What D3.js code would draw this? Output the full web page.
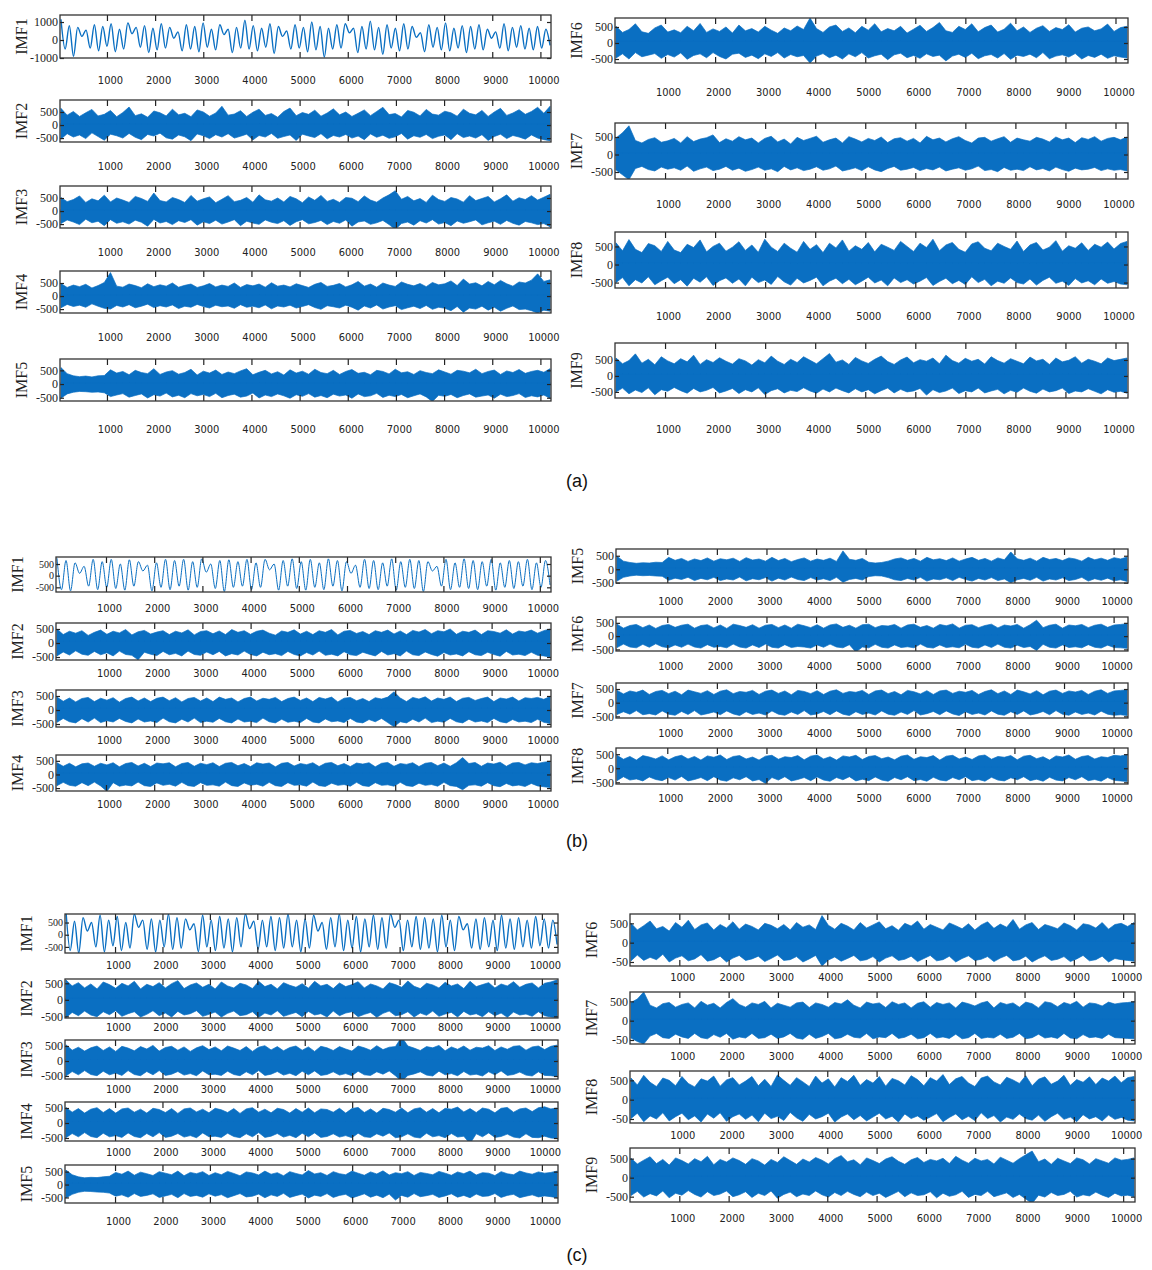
<!DOCTYPE html>
<html>
<head>
<meta charset="utf-8">
<script src="https://cdn.jsdelivr.net/npm/d3@7"></script>
<style>
  body { margin: 0; background: #fff; }
  .ylab text { font-family: "Liberation Serif", serif; font-size: 12px; fill: #222; }
  .ylab.small text { font-size: 10px; }
  .xlab text { font-family: "DejaVu Sans Condensed", "DejaVu Sans", sans-serif; font-size: 11px; fill: #222; }
  .imf { font-family: "Liberation Serif", serif; font-size: 16px; fill: #222; }
  .grp { font-family: "Liberation Sans", Arial, sans-serif; font-size: 18px; fill: #111; }
</style>
</head>
<body>
<svg id="chart" width="1152" height="1270"></svg>
<script>
// tick values shared by all panels
const xTicks = [1000, 2000, 3000, 4000, 5000, 6000, 7000, 8000, 9000, 10000];
const yTicks = [500, 0, -500];
const yTicksWide = [1000, 0, -1000];
const groupLabels = ["(a)", "(b)", "(c)"];

// IMF1 of each group: successive peak / trough values (uniform sampling)
const a1 = [1150,-500,800,-900,700,200,550,-450,850,-600,750,-350,900,-650,600,-500,950,350,700,-400,800,-700,650,-550,900,-450,700,100,450,-600,850,-500,750,-650,950,-400,600,-550,850,300,600,-700,700,-450,1100,-500,800,-600,650,-400,900,-750,750,200,500,-500,850,-450,700,-650,1000,-550,750,-950,650,-500,850,-450,900,400,650,-700,750,-500,1050,-550,700,-800,850,-450,650,-600,900,-500,750,150,400,-650,850,-400,700,-550,950,-600,650,-450,800,-700,750,-500,850,-550,600,100,450,-450,900,-600,700,-400,800,-500,650,-550,750,-450,600,-300];
const b1 = [750,-600,650,-650,550,100,400,-450,700,-600,600,-500,700,-550,500,-620,680,-450,600,200,450,-650,550,-500,700,-600,650,-450,700,-620,600,-500,720,150,500,-550,650,-680,680,-500,600,-450,700,-600,550,-500,700,250,500,-620,650,-450,720,-550,600,-620,700,-500,550,-600,720,-450,650,-650,600,100,450,-500,700,-550,650,-600,550,-450,720,-620,600,-500,700,-550,650,-680,600,200,400,-450,700,-600,550,-500,720,-550,650,-600,600,-450,700,-620,550,-500,650,-550,600,-450,700,-600,550,-500,650,-400];
const c1 = [1000,-650,550,-750,700,150,500,-500,800,-700,600,-450,750,-650,500,-550,850,300,600,-600,650,-700,600,-500,850,-600,700,-550,650,200,450,-700,800,-500,600,-650,750,-550,650,-700,700,-500,850,250,550,-600,600,-500,750,-650,700,-550,850,-500,600,-700,650,-550,800,150,500,-600,700,-500,850,-650,600,-550,750,-700,650,-500,800,-600,700,-550,850,300,600,-650,600,-500,750,-600,700,-550,650,-700,800,-500,600,-650,750,200,450,-550,650,-600,700,-500,600,-650,800,-550,650,-600,700,-500,600,-550,750,-450,650,-550,600,-400];

// other IMFs: upper and lower envelope of the dense signal (80 samples each)
const a2h = [640,380,520,330,470,600,350,410,560,320,480,690,360,430,300,540,470,350,610,390,450,320,580,500,340,460,720,380,420,550,330,490,610,370,440,300,520,650,360,480,410,570,340,460,620,390,500,330,450,580,360,520,680,400,440,310,560,490,350,600,420,380,530,470,340,610,450,390,560,330,500,640,370,460,590,410,520,680,450,720];
const a2l = [-540,-330,-460,-380,-520,-300,-440,-580,-350,-410,-500,-320,-470,-560,-360,-420,-310,-490,-540,-380,-450,-600,-340,-410,-520,-370,-460,-330,-500,-430,-350,-570,-400,-460,-320,-510,-440,-380,-590,-350,-420,-480,-330,-530,-400,-460,-360,-500,-420,-560,-340,-470,-390,-510,-450,-320,-540,-410,-470,-360,-520,-430,-380,-560,-330,-480,-420,-500,-370,-590,-440,-350,-520,-400,-460,-540,-380,-500,-560,-600];
const a3h = [520,360,440,580,330,470,390,610,350,500,420,330,560,480,370,690,400,350,520,440,330,600,380,470,540,320,450,590,360,410,520,340,620,430,380,500,350,560,470,320,540,410,600,370,450,330,520,490,360,580,420,340,500,620,780,450,560,390,480,330,610,440,370,520,460,340,590,400,480,560,350,470,620,380,510,440,590,420,530,640];
const a3l = [-480,-340,-420,-520,-310,-450,-390,-560,-330,-470,-410,-500,-350,-430,-580,-320,-460,-400,-520,-370,-440,-330,-540,-410,-480,-350,-500,-420,-330,-560,-390,-460,-510,-340,-430,-480,-370,-550,-410,-330,-490,-440,-360,-520,-400,-470,-340,-580,-420,-380,-510,-450,-360,-520,-700,-480,-420,-540,-370,-460,-330,-500,-440,-560,-380,-470,-410,-340,-530,-450,-390,-510,-360,-470,-540,-400,-450,-520,-480,-600];
const a4h = [480,330,420,360,450,310,400,520,900,380,340,460,400,320,470,360,430,380,500,340,410,460,330,390,480,350,420,370,500,330,440,390,460,340,510,380,420,350,470,400,330,450,520,370,410,480,350,430,560,380,460,340,500,420,370,540,450,390,480,360,520,430,470,580,400,650,460,510,390,560,430,600,470,380,540,500,610,850,560,620];
const a4l = [-450,-320,-400,-350,-430,-300,-390,-470,-500,-360,-420,-330,-450,-390,-310,-440,-370,-420,-340,-480,-390,-430,-320,-400,-460,-350,-410,-380,-470,-330,-430,-390,-450,-340,-490,-380,-420,-350,-460,-400,-330,-440,-510,-370,-410,-460,-350,-430,-540,-380,-460,-340,-500,-420,-370,-520,-450,-390,-480,-360,-510,-430,-470,-560,-400,-620,-460,-500,-390,-540,-430,-580,-470,-380,-520,-500,-560,-650,-540,-580];
const a5h = [600,380,300,270,290,260,300,310,520,400,460,340,500,420,380,560,350,440,490,360,420,540,330,470,400,510,350,440,380,480,560,340,430,500,370,450,330,520,400,470,360,540,420,380,500,350,460,530,390,430,340,500,460,370,540,410,450,350,490,420,380,520,440,360,500,470,410,540,380,460,510,350,480,420,530,390,460,500,430,560];
const a5l = [-520,-360,-300,-270,-280,-300,-290,-320,-460,-400,-350,-480,-420,-360,-510,-390,-440,-330,-470,-410,-500,-350,-430,-380,-460,-340,-500,-420,-370,-480,-440,-330,-510,-400,-460,-360,-430,-520,-390,-450,-350,-480,-420,-500,-370,-440,-400,-520,-360,-460,-430,-340,-490,-410,-460,-380,-500,-430,-360,-470,-640,-410,-450,-380,-500,-420,-360,-480,-440,-400,-520,-370,-460,-420,-350,-490,-430,-470,-400,-520];
const a6h = [520,330,420,600,350,300,470,560,340,410,320,520,380,610,330,440,360,500,310,560,380,450,340,520,400,300,470,380,530,420,780,450,330,500,560,360,470,320,520,400,600,350,450,380,520,310,430,550,360,480,640,380,330,520,420,600,350,480,560,340,430,620,380,500,330,460,540,360,480,420,570,340,460,500,380,440,590,360,480,520];
const a6l = [-470,-340,-500,-300,-430,-380,-330,-480,-360,-440,-310,-510,-390,-340,-460,-300,-420,-500,-350,-320,-450,-380,-490,-340,-420,-300,-470,-360,-430,-390,-625,-410,-330,-460,-380,-500,-340,-430,-300,-470,-400,-350,-520,-370,-320,-460,-390,-480,-340,-420,-380,-560,-410,-350,-450,-320,-490,-400,-360,-470,-330,-510,-380,-420,-350,-460,-300,-490,-410,-370,-440,-330,-500,-390,-450,-350,-480,-400,-440,-470];
const a7h = [470,620,820,400,330,430,480,350,390,460,330,510,370,440,480,560,340,450,380,510,420,470,330,460,520,360,440,300,490,400,460,520,350,420,470,330,510,440,360,460,400,500,340,450,480,380,460,330,520,420,470,360,450,510,400,330,470,490,380,450,510,350,470,420,380,490,440,360,500,420,470,340,480,430,510,380,460,490,420,500];
const a7l = [-440,-580,-720,-400,-340,-430,-470,-360,-420,-380,-450,-330,-480,-410,-360,-460,-420,-340,-450,-390,-480,-430,-360,-450,-410,-490,-340,-440,-380,-460,-420,-350,-450,-410,-330,-470,-430,-380,-460,-350,-440,-490,-400,-340,-450,-420,-370,-460,-400,-440,-360,-470,-420,-380,-450,-410,-330,-460,-430,-490,-370,-450,-420,-460,-350,-440,-400,-470,-360,-430,-480,-390,-440,-420,-370,-460,-410,-450,-430,-470];
const a8h = [600,380,690,420,330,580,520,360,640,400,330,560,470,680,350,500,590,370,480,630,390,540,340,700,480,360,590,450,340,640,420,550,330,590,460,680,370,520,420,610,350,560,480,390,640,500,360,590,470,700,380,540,610,420,340,570,630,450,380,590,500,420,650,360,540,610,400,480,660,370,520,450,600,390,560,480,620,430,580,640];
const a8l = [-500,-360,-590,-420,-510,-340,-560,-450,-350,-530,-420,-600,-380,-490,-340,-580,-450,-370,-520,-400,-590,-350,-500,-430,-550,-330,-480,-570,-380,-510,-440,-350,-590,-460,-380,-530,-410,-560,-460,-350,-510,-430,-590,-370,-500,-420,-540,-460,-360,-580,-470,-380,-530,-440,-550,-340,-500,-410,-590,-460,-520,-370,-500,-540,-400,-570,-440,-350,-520,-460,-580,-390,-510,-450,-560,-400,-520,-470,-540,-560];
const a9h = [560,380,480,690,400,520,350,600,470,380,540,440,650,360,510,420,570,460,370,540,470,340,510,410,620,460,360,520,420,600,490,380,540,700,430,500,360,580,470,390,520,620,450,360,500,590,410,510,460,560,380,650,480,400,550,460,520,370,600,480,400,540,460,380,590,470,520,360,560,440,490,600,400,520,460,380,560,480,520,560];
const a9l = [-500,-380,-560,-440,-520,-370,-590,-430,-480,-360,-460,-540,-390,-500,-450,-360,-530,-470,-390,-550,-430,-500,-370,-580,-460,-400,-530,-450,-490,-370,-470,-540,-410,-500,-380,-460,-530,-400,-500,-430,-560,-460,-380,-530,-420,-500,-470,-390,-600,-430,-520,-470,-380,-550,-460,-500,-380,-530,-470,-420,-560,-450,-510,-380,-480,-540,-410,-500,-460,-380,-550,-470,-500,-400,-480,-560,-430,-510,-480,-540];

const b2h = [500,300,420,350,440,270,380,460,310,420,360,480,290,400,450,320,390,440,300,420,360,470,290,410,440,330,430,300,480,380,440,310,420,460,350,280,430,380,470,320,420,300,440,380,480,290,420,450,340,410,300,440,380,460,320,430,300,450,390,480,330,440,400,500,310,420,380,460,300,440,410,350,470,320,430,390,460,350,440,500];
const b2l = [-460,-320,-430,-280,-400,-440,-300,-420,-350,-460,-290,-410,-440,-600,-330,-400,-450,-300,-420,-370,-460,-290,-410,-440,-320,-420,-300,-460,-380,-430,-290,-410,-460,-330,-420,-380,-450,-300,-410,-460,-340,-430,-290,-440,-400,-460,-310,-420,-450,-330,-400,-460,-300,-430,-380,-460,-290,-420,-450,-320,-410,-470,-340,-430,-390,-460,-310,-420,-450,-330,-410,-470,-300,-430,-400,-450,-330,-440,-460,-500];
const b3h = [460,310,430,290,410,450,300,420,350,440,280,410,460,320,430,300,420,460,330,440,290,410,450,320,430,300,460,380,430,290,410,460,320,420,380,450,300,410,460,340,430,300,450,390,460,290,420,450,330,410,300,440,390,460,650,430,300,450,390,470,320,430,380,460,300,420,450,340,410,460,300,430,390,460,320,440,410,450,380,480];
const b3l = [-440,-300,-420,-460,-310,-430,-290,-450,-380,-430,-300,-410,-460,-320,-430,-390,-450,-290,-420,-460,-330,-430,-290,-450,-400,-440,-300,-420,-460,-320,-430,-400,-450,-290,-420,-460,-330,-440,-400,-450,-300,-430,-460,-320,-420,-390,-450,-300,-430,-460,-340,-420,-300,-450,-600,-420,-460,-330,-430,-290,-450,-400,-440,-300,-420,-460,-330,-430,-390,-450,-300,-420,-460,-340,-430,-400,-450,-330,-440,-480];
const b4h = [430,300,410,280,390,420,300,410,350,430,280,400,440,310,410,290,420,390,430,280,400,440,300,410,360,430,290,410,440,320,400,290,430,380,420,280,410,440,310,400,360,430,290,410,440,320,400,290,420,380,430,280,410,440,300,400,370,430,290,410,440,320,420,300,430,620,400,440,300,420,380,450,300,420,440,350,430,400,450,480];
const b4l = [-410,-290,-400,-430,-300,-410,-280,-420,-620,-300,-430,-390,-420,-280,-410,-440,-310,-400,-360,-430,-290,-410,-440,-300,-400,-380,-430,-280,-410,-440,-310,-400,-360,-430,-290,-410,-440,-300,-400,-380,-430,-280,-410,-440,-320,-400,-370,-430,-290,-410,-440,-300,-400,-380,-430,-290,-410,-440,-320,-400,-370,-430,-290,-410,-440,-560,-400,-380,-430,-300,-410,-450,-330,-420,-390,-440,-330,-420,-450,-480];
const b5h = [480,300,250,220,240,230,260,250,440,330,400,290,380,320,420,300,390,350,410,290,430,340,380,300,440,320,400,280,360,420,300,380,330,410,290,680,370,330,400,260,230,250,300,380,420,330,400,300,440,350,390,320,420,300,380,440,330,400,300,420,350,640,390,330,410,300,440,360,400,320,420,380,300,440,350,410,330,430,380,450];
const b5l = [-440,-300,-250,-220,-240,-230,-250,-260,-410,-330,-380,-300,-420,-340,-390,-300,-420,-360,-400,-290,-430,-350,-390,-310,-440,-330,-400,-290,-380,-420,-310,-400,-350,-420,-300,-480,-380,-340,-400,-270,-240,-250,-310,-390,-420,-340,-400,-300,-440,-360,-390,-320,-420,-300,-380,-440,-340,-400,-310,-420,-360,-500,-390,-340,-410,-300,-440,-360,-400,-320,-420,-380,-300,-440,-350,-410,-330,-430,-390,-450];
const b6h = [450,300,400,440,320,420,290,400,440,330,410,450,300,400,430,310,420,290,450,400,330,430,300,410,440,320,420,300,450,390,320,430,300,420,460,330,410,300,430,450,320,400,380,440,300,420,450,330,400,300,440,390,460,300,410,430,320,400,450,310,420,380,440,300,430,600,320,410,450,300,420,390,440,320,410,450,330,420,440,470];
const b6l = [-430,-300,-410,-440,-310,-420,-290,-400,-440,-330,-420,-300,-410,-450,-320,-420,-390,-440,-300,-410,-450,-330,-430,-300,-420,-450,-320,-430,-390,-410,-450,-330,-420,-300,-410,-440,-320,-600,-410,-440,-310,-420,-450,-330,-430,-400,-440,-300,-420,-450,-330,-430,-400,-440,-310,-420,-450,-330,-430,-300,-420,-450,-340,-430,-390,-540,-310,-420,-450,-330,-430,-400,-440,-320,-420,-450,-340,-430,-440,-460];
const b7h = [450,320,430,380,460,300,410,450,330,420,290,460,400,340,440,300,420,470,330,410,380,450,300,420,460,340,430,290,450,410,330,440,300,420,470,340,410,380,450,300,430,460,330,410,290,450,400,320,440,300,430,460,340,420,380,450,300,410,470,330,430,300,460,400,320,440,290,420,460,340,430,390,450,300,420,470,340,430,450,470];
const b7l = [-430,-330,-420,-290,-440,-400,-450,-300,-420,-460,-320,-430,-290,-450,-400,-340,-440,-300,-410,-470,-330,-430,-380,-450,-300,-420,-460,-340,-430,-290,-450,-410,-320,-440,-300,-420,-470,-330,-430,-380,-450,-300,-420,-460,-340,-430,-290,-450,-400,-320,-440,-300,-410,-470,-330,-430,-380,-450,-300,-420,-460,-330,-430,-300,-450,-400,-320,-440,-290,-420,-460,-340,-430,-380,-450,-310,-420,-460,-440,-470];
const b8h = [460,320,420,290,450,400,330,440,300,410,460,330,420,290,440,390,470,310,420,450,330,400,290,430,460,320,410,380,450,300,430,470,330,410,290,440,400,460,310,420,450,340,400,300,430,470,320,410,380,450,290,430,460,330,400,310,440,470,320,420,390,450,300,430,460,340,410,290,440,400,470,320,420,450,330,410,380,460,440,480];
const b8l = [-440,-300,-420,-380,-450,-310,-400,-440,-330,-420,-290,-450,-400,-330,-440,-300,-420,-460,-340,-410,-300,-450,-400,-540,-330,-420,-300,-450,-400,-330,-440,-310,-420,-460,-330,-410,-300,-450,-390,-440,-310,-420,-460,-330,-410,-300,-440,-400,-460,-320,-420,-450,-330,-410,-300,-440,-400,-460,-320,-420,-450,-340,-410,-300,-440,-390,-460,-320,-420,-450,-330,-410,-300,-440,-400,-460,-330,-430,-450,-470];

const c2h = [600,420,520,360,480,330,540,460,350,500,420,560,330,470,400,520,360,490,580,340,450,510,380,470,330,540,420,360,500,450,340,560,400,470,330,520,440,380,490,350,560,420,470,340,510,400,460,550,360,480,420,330,520,460,380,570,410,340,500,450,360,530,420,480,340,560,400,460,520,360,480,420,550,380,470,510,360,500,540,600];
const c2l = [-540,-380,-480,-340,-460,-510,-360,-450,-330,-500,-420,-360,-520,-440,-330,-480,-400,-520,-350,-460,-420,-330,-500,-440,-370,-520,-410,-340,-480,-450,-360,-530,-400,-460,-330,-500,-440,-380,-510,-350,-460,-420,-520,-340,-480,-400,-360,-510,-440,-380,-530,-410,-340,-480,-450,-360,-520,-400,-470,-340,-500,-430,-380,-520,-350,-460,-420,-510,-360,-480,-400,-530,-370,-460,-430,-500,-360,-480,-520,-540];
const c3h = [540,360,460,330,440,500,350,470,320,490,430,340,480,400,520,330,450,490,360,470,320,440,510,380,470,340,500,430,350,480,320,460,510,370,480,340,450,500,360,470,320,490,440,350,480,400,330,500,440,360,510,380,460,480,800,500,430,350,480,440,520,340,470,390,500,360,460,430,510,350,470,390,490,510,360,470,500,380,490,530];
const c3l = [-500,-350,-460,-320,-450,-490,-340,-460,-400,-480,-320,-450,-490,-350,-460,-320,-480,-440,-350,-470,-420,-490,-330,-460,-440,-480,-340,-450,-490,-360,-460,-320,-480,-440,-350,-470,-410,-490,-340,-460,-330,-480,-450,-360,-470,-420,-490,-340,-460,-480,-360,-440,-330,-490,-680,-480,-430,-360,-470,-500,-340,-460,-420,-490,-350,-470,-440,-500,-360,-460,-330,-480,-450,-370,-470,-500,-360,-480,-490,-520];
const c4h = [520,360,480,330,460,510,350,480,330,470,500,360,460,330,490,450,350,480,320,470,500,370,460,340,490,440,350,480,320,470,510,360,460,340,490,450,330,480,360,500,340,470,450,360,490,330,480,520,350,470,330,490,450,360,500,340,470,510,360,480,340,490,460,530,370,480,350,500,460,340,490,520,360,470,500,380,510,540,470,500];
const c4l = [-490,-350,-460,-320,-450,-490,-340,-460,-420,-480,-330,-450,-490,-350,-460,-320,-480,-440,-350,-470,-420,-490,-330,-460,-440,-480,-340,-450,-490,-360,-460,-320,-480,-440,-350,-470,-410,-490,-340,-460,-330,-480,-450,-360,-470,-420,-490,-340,-460,-480,-360,-440,-330,-490,-460,-360,-470,-500,-340,-460,-420,-490,-350,-470,-440,-690,-360,-460,-330,-480,-450,-370,-470,-500,-360,-480,-490,-440,-500,-520];
const c5h = [560,380,300,260,280,270,300,320,470,400,520,360,480,420,350,500,440,380,520,340,470,420,500,350,460,380,510,430,340,490,450,370,520,400,460,340,500,430,370,540,410,460,350,500,420,380,520,440,360,490,410,530,370,460,420,500,350,470,430,380,510,440,360,490,420,520,370,460,440,350,500,420,380,520,450,400,490,440,470,520];
const c5l = [-520,-380,-300,-260,-270,-290,-300,-330,-450,-400,-490,-350,-460,-420,-360,-500,-440,-380,-510,-350,-460,-420,-490,-360,-450,-390,-510,-430,-350,-480,-450,-370,-510,-400,-460,-340,-500,-430,-370,-520,-410,-460,-350,-500,-420,-380,-520,-440,-360,-490,-410,-510,-370,-600,-420,-490,-350,-470,-430,-380,-500,-440,-360,-490,-420,-510,-370,-460,-440,-350,-500,-420,-380,-510,-450,-400,-480,-440,-470,-510];
const c6h = [500,330,440,560,360,420,300,520,400,580,340,460,510,330,470,380,540,350,480,420,330,500,450,360,470,330,520,400,460,340,700,450,350,500,430,330,520,380,460,540,360,440,320,500,430,560,350,470,400,330,510,440,360,490,330,460,540,370,480,400,600,350,460,520,340,470,420,360,510,440,330,490,460,380,520,350,470,500,420,520];
const c6l = [-470,-320,-460,-380,-440,-300,-500,-400,-340,-470,-420,-310,-480,-440,-350,-500,-400,-330,-460,-420,-350,-490,-410,-320,-460,-440,-360,-500,-420,-330,-604,-450,-370,-480,-410,-330,-470,-440,-360,-500,-400,-340,-460,-430,-350,-490,-410,-330,-470,-440,-350,-500,-410,-340,-460,-430,-360,-490,-400,-330,-470,-440,-350,-500,-410,-340,-460,-430,-360,-490,-420,-330,-470,-440,-350,-500,-410,-440,-460,-480];
const c7h = [470,560,742,400,330,440,470,350,420,460,330,500,400,450,330,470,570,420,350,460,420,500,330,450,400,350,460,480,340,460,420,350,470,430,540,400,330,480,430,460,340,490,420,460,330,450,490,350,470,420,460,330,480,440,380,460,500,330,470,420,460,350,480,440,330,490,460,360,470,420,500,350,460,440,380,480,430,460,470,490];
const c7l = [-450,-540,-604,-400,-330,-440,-460,-350,-420,-460,-330,-440,-470,-360,-430,-330,-480,-420,-450,-330,-460,-440,-350,-460,-420,-330,-450,-480,-350,-460,-410,-330,-470,-440,-350,-430,-450,-330,-470,-420,-440,-330,-460,-430,-350,-470,-440,-330,-450,-420,-460,-350,-470,-440,-330,-460,-430,-450,-350,-460,-430,-330,-470,-440,-350,-450,-420,-460,-330,-450,-470,-360,-440,-420,-460,-350,-440,-450,-460,-470];
const c8h = [560,380,630,450,340,560,500,360,600,420,330,540,480,610,350,510,570,380,480,600,360,530,340,640,500,370,570,460,340,610,430,540,330,570,470,630,370,520,430,600,350,550,490,380,620,520,360,570,480,650,390,540,600,430,340,560,610,460,380,580,510,420,620,360,530,590,400,480,630,370,520,450,590,390,560,480,610,440,570,600];
const c8l = [-490,-350,-570,-420,-500,-340,-550,-440,-350,-520,-420,-580,-370,-480,-340,-560,-440,-370,-510,-400,-570,-350,-490,-430,-540,-330,-470,-560,-380,-500,-440,-350,-580,-450,-370,-520,-410,-550,-450,-350,-500,-430,-580,-370,-490,-420,-530,-450,-360,-570,-460,-370,-520,-430,-540,-340,-490,-410,-580,-450,-510,-370,-490,-530,-400,-560,-440,-350,-510,-450,-570,-390,-500,-440,-550,-400,-510,-460,-530,-550];
const c9h = [510,360,460,550,370,480,330,520,450,360,500,420,560,340,480,410,520,450,350,500,440,330,480,400,550,450,350,490,410,530,460,360,500,580,420,470,340,520,450,370,490,550,430,350,470,530,400,480,440,510,370,560,460,380,510,440,480,360,540,460,380,500,600,700,420,490,350,510,440,370,520,470,360,500,440,380,520,460,480,520];
const c9l = [-470,-360,-510,-420,-480,-350,-530,-410,-460,-340,-440,-510,-370,-470,-430,-350,-500,-450,-370,-520,-410,-470,-350,-540,-440,-380,-500,-430,-470,-350,-450,-510,-390,-470,-360,-440,-500,-380,-470,-410,-520,-440,-360,-500,-400,-470,-450,-370,-530,-410,-490,-450,-360,-520,-440,-470,-360,-500,-450,-400,-520,-440,-560,-680,-460,-510,-390,-470,-440,-360,-510,-450,-480,-380,-460,-520,-410,-480,-460,-500];

// panel layout (pixel boxes and axis limits)
const L = { x0: 60, x1: 551, xd: [25, 10220] };
const R = { x0: 615, x1: 1128, xd: [0, 10250] };
const BL = { x0: 56, x1: 551, xd: [-37, 10232] };
const BR = { x0: 616, x1: 1128, xd: [-34, 10290] };
const CL = { x0: 65, x1: 558, xd: [-55, 10340] };
const CR = { x0: 630, x1: 1135, xd: [0, 10240] };

const panels = [
  { col: L, name: "IMF1", wave: a1, y0: 15, y1: 58, yd: [-1000, 1390], yt: yTicksWide, lab: 80 },
  { col: L, name: "IMF2", hi: a2h, lo: a2l, y0: 100, y1: 142, yd: [-650, 960], lab: 166 },
  { col: L, name: "IMF3", hi: a3h, lo: a3l, y0: 186, y1: 228, yd: [-650, 960], lab: 252 },
  { col: L, name: "IMF4", hi: a4h, lo: a4l, y0: 271, y1: 313, yd: [-650, 960], lab: 337 },
  { col: L, name: "IMF5", hi: a5h, lo: a5l, y0: 359, y1: 401, yd: [-620, 915], lab: 429 },
  { col: R, name: "IMF6", hi: a6h, lo: a6l, y0: 18, y1: 63, yd: [-625, 780], lab: 92 },
  { col: R, name: "IMF7", hi: a7h, lo: a7l, y0: 123, y1: 179, yd: [-700, 900], lab: 204 },
  { col: R, name: "IMF8", hi: a8h, lo: a8l, y0: 232, y1: 288, yd: [-650, 900], lab: 316 },
  { col: R, name: "IMF9", hi: a9h, lo: a9l, y0: 343, y1: 398, yd: [-690, 1030], lab: 429 },

  { col: BL, name: "IMF1", wave: b1, y0: 557, y1: 592, yd: [-700, 800], lab: 608, thin: true, small: true },
  { col: BL, name: "IMF2", hi: b2h, lo: b2l, y0: 623, y1: 660, yd: [-607, 714], lab: 673 },
  { col: BL, name: "IMF3", hi: b3h, lo: b3l, y0: 690, y1: 727, yd: [-607, 714], lab: 740 },
  { col: BL, name: "IMF4", hi: b4h, lo: b4l, y0: 755, y1: 791, yd: [-607, 714], lab: 804 },
  { col: BR, name: "IMF5", hi: b5h, lo: b5l, y0: 549, y1: 583, yd: [-510, 750], lab: 601 },
  { col: BR, name: "IMF6", hi: b6h, lo: b6l, y0: 617, y1: 651, yd: [-560, 720], lab: 666 },
  { col: BR, name: "IMF7", hi: b7h, lo: b7l, y0: 683, y1: 718, yd: [-560, 720], lab: 733 },
  { col: BR, name: "IMF8", hi: b8h, lo: b8l, y0: 748, y1: 784, yd: [-560, 720], lab: 798 },

  { col: CL, name: "IMF1", wave: c1, y0: 914, y1: 953, yd: [-750, 850], lab: 965, small: true },
  { col: CL, name: "IMF2", hi: c2h, lo: c2l, y0: 979, y1: 1018, yd: [-550, 630], lab: 1027 },
  { col: CL, name: "IMF3", hi: c3h, lo: c3l, y0: 1040, y1: 1079, yd: [-600, 700], lab: 1089 },
  { col: CL, name: "IMF4", hi: c4h, lo: c4l, y0: 1102, y1: 1141, yd: [-600, 700], lab: 1152 },
  { col: CL, name: "IMF5", hi: c5h, lo: c5l, y0: 1165, y1: 1203, yd: [-715, 757], lab: 1221 },
  { col: CR, name: "IMF6", hi: c6h, lo: c6l, y0: 914, y1: 966, yd: [-604, 742], lab: 977, cut: true },
  { col: CR, name: "IMF7", hi: c7h, lo: c7l, y0: 992, y1: 1044, yd: [-604, 742], lab: 1056, cut: true },
  { col: CR, name: "IMF8", hi: c8h, lo: c8l, y0: 1071, y1: 1123, yd: [-604, 742], lab: 1135, cut: true },
  { col: CR, name: "IMF9", hi: c9h, lo: c9l, y0: 1148, y1: 1202, yd: [-640, 780], lab: 1218 }
];

const blue = "#0a6fc2";
const svg = d3.select("#chart");

panels.forEach((p, k) => {
  const x = d3.scaleLinear().domain(p.col.xd).range([p.col.x0, p.col.x1]);
  const y = d3.scaleLinear().domain(p.yd).range([p.y1, p.y0]);
  const g = svg.append("g");
  const clipId = "clip" + k;
  g.append("clipPath").attr("id", clipId)
    .append("rect")
      .attr("x", p.col.x0).attr("y", p.y0)
      .attr("width", p.col.x1 - p.col.x0).attr("height", p.y1 - p.y0);

  const plot = g.append("g").attr("clip-path", "url(#" + clipId + ")");

  if (p.wave) {
    const t = d3.scaleLinear().domain([0, p.wave.length - 1]).range([p.col.xd[0] + 20, p.col.xd[1] - 20]);
    const line = d3.line()
      .x((d, i) => x(t(i)))
      .y(d => y(d))
      .curve(d3.curveMonotoneX);
    plot.append("path")
      .datum(p.wave)
      .attr("d", line)
      .attr("fill", "none")
      .attr("stroke", blue)
      .attr("stroke-width", p.thin ? 1 : 1.4);
  } else {
    // upper and lower halves of the band, each drawn from just past the zero line
    [[p.hi, 1.5], [p.lo, -1.5]].forEach(([arr, overlap]) => {
      const t = d3.scaleLinear().domain([0, arr.length - 1]).range([p.col.xd[0] + 20, p.col.xd[1] - 20]);
      const area = d3.area()
        .x((d, i) => x(t(i)))
        .y0(y(0) + overlap)
        .y1(d => y(d));
      plot.append("path")
        .datum(arr)
        .attr("d", area)
        .attr("fill", blue)
        .attr("stroke", blue)
        .attr("stroke-width", 0.7);
    });
  }

  // inward ticks on all four sides
  const yt = p.yt || yTicks;
  g.append("g")
    .attr("transform", "translate(0," + p.y1 + ")")
    .call(d3.axisBottom(x).tickValues(xTicks).tickSize(-6).tickFormat(""))
    .call(s => s.select(".domain").remove());
  g.append("g")
    .attr("transform", "translate(0," + p.y0 + ")")
    .call(d3.axisTop(x).tickValues(xTicks).tickSize(-6).tickFormat(""))
    .call(s => s.select(".domain").remove());
  g.append("g")
    .attr("transform", "translate(" + p.col.x1 + ",0)")
    .call(d3.axisRight(y).tickValues(yt).tickSize(-4).tickFormat(""))
    .call(s => s.select(".domain").remove());
  g.append("g")
    .attr("class", p.small ? "ylab small" : "ylab")
    .attr("transform", "translate(" + p.col.x0 + ",0)")
    .call(d3.axisLeft(y).tickValues(yt).tickSize(-4).tickPadding(2)
      .tickFormat(d => (p.cut && d < 0) ? "-50" : String(d)))
    .call(s => s.select(".domain").remove());
  g.selectAll(".tick line").attr("stroke", "#222").attr("stroke-width", 1.2);

  // tick labels sit well below the frame
  g.append("g")
    .attr("class", "xlab")
    .attr("transform", "translate(3," + (p.lab - 4) + ")")
    .call(d3.axisBottom(x).tickValues(xTicks).tickSize(0).tickPadding(0).tickFormat(d => String(d)))
    .call(s => s.select(".domain").remove());

  g.append("rect")
    .attr("x", p.col.x0).attr("y", p.y0)
    .attr("width", p.col.x1 - p.col.x0).attr("height", p.y1 - p.y0)
    .attr("fill", "none").attr("stroke", "#333").attr("stroke-width", 1.3);

  const lx = p.col.x0 - 39, ly = (p.y0 + p.y1) / 2;
  g.append("text")
    .attr("class", "imf")
    .attr("transform", "translate(" + lx + "," + ly + ") rotate(-90)")
    .attr("text-anchor", "middle")
    .attr("dominant-baseline", "central")
    .text(p.name);
});

const grpY = [481, 841, 1255];
svg.selectAll("text.grp")
  .data(groupLabels)
  .enter().append("text")
    .attr("class", "grp")
    .attr("x", 577)
    .attr("y", (d, i) => grpY[i])
    .attr("text-anchor", "middle")
    .attr("dominant-baseline", "central")
    .text(d => d);
</script>
</body>
</html>
